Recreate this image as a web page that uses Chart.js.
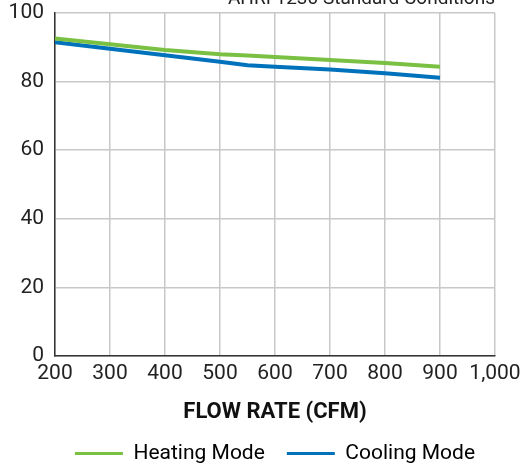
<!DOCTYPE html>
<html>
<head>
<meta charset="utf-8">
<script src="https://cdn.jsdelivr.net/npm/chart.js@4"></script>
<style>
  html, body { margin: 0; padding: 0; background: #fff; }
  #wrap { width: 520px; height: 466px; }
</style>
</head>
<body>
<div id="wrap"><canvas id="chart" width="520" height="466"></canvas></div>
<script>
'use strict'

/* ------------------------------ Data ------------------------------ */

const flowRates = [200, 300, 400, 500, 550, 600, 700, 800, 900]
const heatingMode = [92.6, 90.9, 89.2, 88.0, 87.6, 87.2, 86.3, 85.4, 84.3]
const coolingMode = [91.5, 89.6, 87.7, 85.8, 84.8, 84.3, 83.5, 82.4, 81.1]
const seriesNames = ['Heating Mode', 'Cooling Mode']
const xTitle = 'FLOW RATE (CFM)'
const noteText = 'AHRI 1230 Standard Conditions'

const FONT = "'Roboto', sans-serif"
const GREEN = '#7ac143'
const BLUE = '#0072bc'

function toPoints (values) {
  return values.map((v, i) => ({ x: flowRates[i], y: v }))
}

// note in the top right corner, cut off by the top edge
const notePlugin = {
  id: 'note',
  afterDraw (chart) {
    const ctx = chart.ctx
    ctx.save()
    ctx.font = `19px ${FONT}`
    ctx.fillStyle = '#222'
    ctx.textAlign = 'right'
    ctx.textBaseline = 'alphabetic'
    ctx.fillText(noteText, chart.chartArea.right, 4)
    ctx.restore()
  }
}

// centre the legend row under the plot instead of the whole canvas
const legendShift = {
  id: 'legendShift',
  afterLayout (chart) {
    const lg = chart.legend
    const dx = (chart.chartArea.left + chart.chartArea.right) / 2 - (lg.left + lg.right) / 2
    lg.left += dx
    lg.right += dx
  }
}

new Chart(document.getElementById('chart'), {
  type: 'line',
  data: {
    datasets: [
      { label: seriesNames[0], data: toPoints(heatingMode), borderColor: GREEN, backgroundColor: GREEN },
      { label: seriesNames[1], data: toPoints(coolingMode), borderColor: BLUE, backgroundColor: BLUE }
    ]
  },
  plugins: [notePlugin, legendShift],
  options: {
    responsive: false,
    animation: false,
    // legend hangs a bit below the canvas so its row sits low
    layout: { padding: { top: 13, right: 25, left: 0, bottom: -8 } },
    elements: {
      point: { radius: 0 },
      line: { borderWidth: 4, tension: 0 }
    },
    scales: {
      x: {
        type: 'linear',
        min: 200,
        max: 1000,
        ticks: { stepSize: 100, maxRotation: 0, autoSkip: false, color: '#222', padding: 5, font: { family: FONT, size: 21 } },
        grid: { color: '#c8c8c8', lineWidth: 1.5, drawTicks: false },
        border: { color: '#333', width: 1.5 },
        title: { display: true, text: xTitle, color: '#111', font: { family: FONT, size: 22, weight: 'bold' }, padding: { top: 10, bottom: -5 } },
        afterFit: s => {
          s.height = 65
          s.paddingRight = 0
        }
      },
      y: {
        min: 0,
        max: 100,
        ticks: { stepSize: 20, color: '#222', padding: 11, font: { family: FONT, size: 21 } },
        grid: { color: '#c8c8c8', lineWidth: 1.5, drawTicks: false },
        border: { color: '#333', width: 1.5 },
        afterFit: s => {
          s.width = 55
          s.paddingTop = 0
        }
      }
    },
    plugins: {
      tooltip: { enabled: false },
      legend: {
        position: 'bottom',
        labels: {
          color: '#222',
          font: { family: FONT, size: 21 },
          boxWidth: 48,
          boxHeight: 3,
          padding: 22,
          generateLabels: chart => chart.data.datasets.map((ds, i) => ({
            text: ds.label,
            fillStyle: ds.borderColor,
            strokeStyle: ds.borderColor,
            lineWidth: 0,
            datasetIndex: i
          }))
        }
      }
    }
  }
})
</script>
</body>
</html>
